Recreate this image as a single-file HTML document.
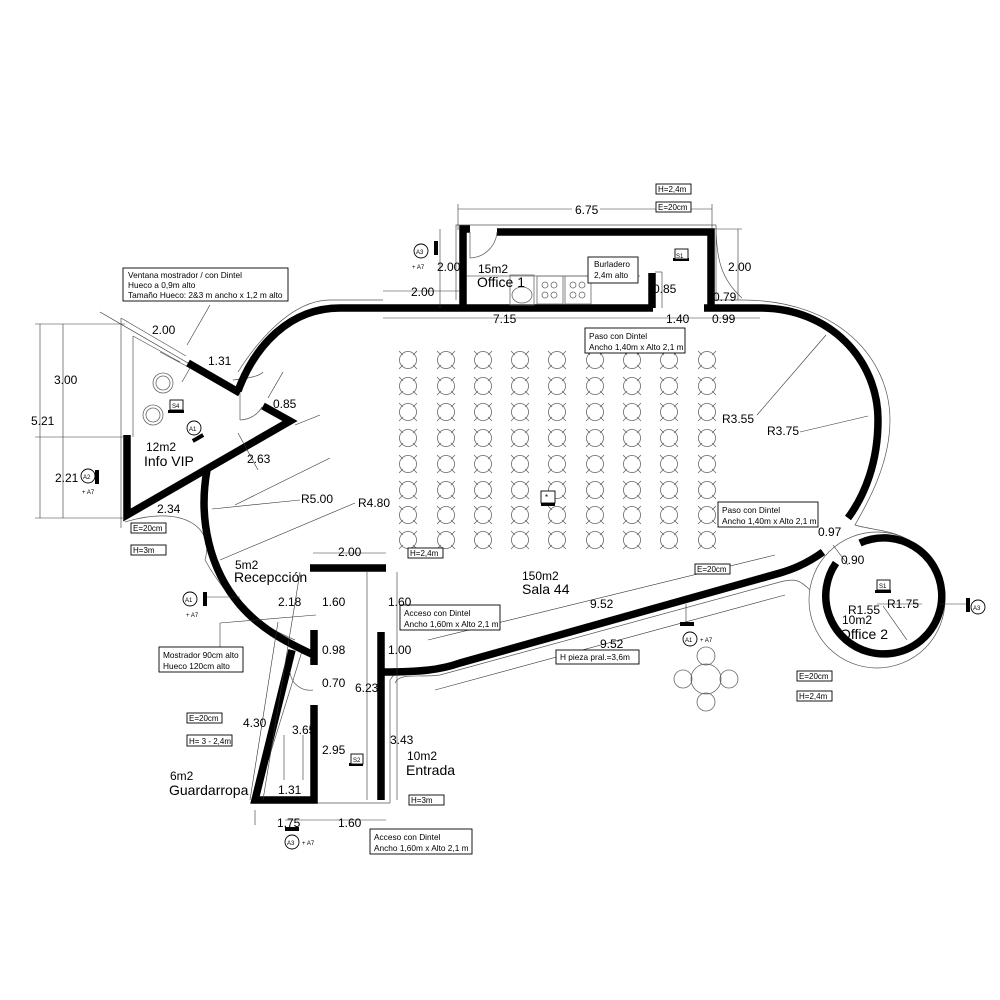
<!DOCTYPE html>
<html><head><meta charset="utf-8"><style>
html,body{margin:0;padding:0;background:#fff}
svg{display:block}
text{font-family:"Liberation Sans",sans-serif;fill:#000}
.s{font-size:8.3px}
.m{font-size:12px}
.l{font-size:14px}
.w{stroke:#000;stroke-width:7.5;fill:none;stroke-linecap:butt}
.t{stroke:#555;stroke-width:0.7;fill:none}
.d{stroke:#333;stroke-width:0.6;fill:none}
.b{fill:#fff;stroke:#000;stroke-width:0.9}
.c{stroke:#666;stroke-width:0.8;fill:none}
</style></head><body>
<svg width="1000" height="1000" viewBox="0 0 1000 1000" xmlns="http://www.w3.org/2000/svg">
<defs>
<g id="ch"><circle cx="0" cy="0" r="8.5" class="c"/><path d="M-9,-9 L-5,-5 M9,-9 L5,-5 M-9,9 L-5,5 M9,9 L5,5" class="c"/></g>
</defs>

<g>
<use href="#ch" x="408" y="360"/><use href="#ch" x="446" y="360"/><use href="#ch" x="483" y="360"/><use href="#ch" x="520" y="360"/><use href="#ch" x="557" y="360"/><use href="#ch" x="595" y="360"/><use href="#ch" x="632" y="360"/><use href="#ch" x="669" y="360"/><use href="#ch" x="707" y="360"/>
<use href="#ch" x="408" y="386"/><use href="#ch" x="446" y="386"/><use href="#ch" x="483" y="386"/><use href="#ch" x="520" y="386"/><use href="#ch" x="557" y="386"/><use href="#ch" x="595" y="386"/><use href="#ch" x="632" y="386"/><use href="#ch" x="669" y="386"/><use href="#ch" x="707" y="386"/>
<use href="#ch" x="408" y="412"/><use href="#ch" x="446" y="412"/><use href="#ch" x="483" y="412"/><use href="#ch" x="520" y="412"/><use href="#ch" x="557" y="412"/><use href="#ch" x="595" y="412"/><use href="#ch" x="632" y="412"/><use href="#ch" x="669" y="412"/><use href="#ch" x="707" y="412"/>
<use href="#ch" x="408" y="438"/><use href="#ch" x="446" y="438"/><use href="#ch" x="483" y="438"/><use href="#ch" x="520" y="438"/><use href="#ch" x="557" y="438"/><use href="#ch" x="595" y="438"/><use href="#ch" x="632" y="438"/><use href="#ch" x="669" y="438"/><use href="#ch" x="707" y="438"/>
<use href="#ch" x="408" y="464"/><use href="#ch" x="446" y="464"/><use href="#ch" x="483" y="464"/><use href="#ch" x="520" y="464"/><use href="#ch" x="557" y="464"/><use href="#ch" x="595" y="464"/><use href="#ch" x="632" y="464"/><use href="#ch" x="669" y="464"/><use href="#ch" x="707" y="464"/>
<use href="#ch" x="408" y="490"/><use href="#ch" x="446" y="490"/><use href="#ch" x="483" y="490"/><use href="#ch" x="520" y="490"/><use href="#ch" x="557" y="490"/><use href="#ch" x="595" y="490"/><use href="#ch" x="632" y="490"/><use href="#ch" x="669" y="490"/><use href="#ch" x="707" y="490"/>
<use href="#ch" x="408" y="515"/><use href="#ch" x="446" y="515"/><use href="#ch" x="483" y="515"/><use href="#ch" x="520" y="515"/><use href="#ch" x="557" y="515"/><use href="#ch" x="595" y="515"/><use href="#ch" x="632" y="515"/><use href="#ch" x="669" y="515"/><use href="#ch" x="707" y="515"/>
<use href="#ch" x="408" y="540"/><use href="#ch" x="446" y="540"/><use href="#ch" x="483" y="540"/><use href="#ch" x="520" y="540"/><use href="#ch" x="557" y="540"/><use href="#ch" x="595" y="540"/><use href="#ch" x="632" y="540"/><use href="#ch" x="669" y="540"/><use href="#ch" x="707" y="540"/>
</g>

<path class="t" d="M121,318 L121,528 M121,318 L186,356 M133,336 L133,437 M133,336 L180,362 M160,352 L190,368 M190,368 L182,382 M233,380 C250,378 260,376 263,372 M238,372 C255,345 290,300 330,300 L383,300"/>
<path class="t" d="M456,300 L456,225 L716,225 L716,300 L742,300 M716,225 C716,260 722,280 742,298"/>
<path class="t" d="M742,300 C840,300 890,360 890,420 C890,470 860,515 855,525 C870,530 900,530 915,545 M125,522 C180,505 215,525 205,560 C230,605 260,625 295,640"/>
<path class="t" d="M255,803 L303,648 M255,803 L390,803 M390,803 L390,680 C395,672 400,670 410,670 M395,683 C400,672 420,678 440,675 L780,582 C795,578 800,580 810,590"/>
<circle class="t" cx="877" cy="600" r="68"/>

<path class="w" d="M127,435 L127,515 L290,421 L263,406 M240,393 L188,363"/>
<path class="w" d="M238,391 C255,345 290,308 340,308 L653,308"/>
<path class="w" d="M463,308 L463,229 L470,229 M497,232 L711,232 L711,308 M652,273 L652,308"/>
<path class="w" d="M704,308 L760,308 C830,308 878,360 878,420 C878,462 865,495 848,518"/>
<path class="w" d="M823,552 C805,565 790,570 780,573 L460,663 C440,670 420,672 383,672"/>
<path class="w" d="M207,470 C198,520 210,570 240,605 C260,628 285,642 316,656"/>
<path class="w" d="M310,568 L386,568 M314,630 L314,665 M314,705 L314,800 L255,800 L292,650 M381,632 L381,800"/>
<path class="w" d="M836,563 A58,58 0 1 0 860,543"/>

<path class="c" d="M470,232 L470,258 A28,28 0 0 0 497,232"/>
<path class="c" d="M240,393 L240,420 M240,420 A26,26 0 0 0 262,407"/>
<path class="c" d="M290,672 A20,20 0 0 0 313,690"/>

<rect x="510" y="275" width="24" height="30" class="c"/><ellipse cx="522" cy="295" rx="10" ry="8" class="c"/>
<rect x="537" y="276" width="26" height="28" class="c"/><rect x="565" y="276" width="26" height="28" class="c"/>
<circle cx="545" cy="285" r="3" class="c"/><circle cx="554" cy="285" r="3" class="c"/><circle cx="545" cy="295" r="3" class="c"/><circle cx="554" cy="295" r="3" class="c"/>
<circle cx="573" cy="285" r="3" class="c"/><circle cx="582" cy="285" r="3" class="c"/><circle cx="573" cy="295" r="3" class="c"/><circle cx="582" cy="295" r="3" class="c"/>
<line x1="467" y1="276" x2="640" y2="276" class="c"/>

<circle cx="706" cy="679" r="15" class="c"/>
<circle cx="706" cy="656" r="9" class="c"/><circle cx="706" cy="702" r="9" class="c"/><circle cx="683" cy="679" r="9" class="c"/><circle cx="729" cy="679" r="9" class="c"/>
<circle cx="163" cy="383" r="7" class="c"/><circle cx="163" cy="383" r="10" class="c"/>
<circle cx="153" cy="415" r="7" class="c"/><circle cx="153" cy="415" r="10" class="c"/>

<g class="d">
<line x1="40" y1="324" x2="40" y2="518"/><line x1="63" y1="324" x2="63" y2="518"/>
<line x1="35" y1="324" x2="125" y2="324"/><line x1="35" y1="437" x2="125" y2="437"/><line x1="35" y1="518" x2="125" y2="518"/>
<line x1="458" y1="209" x2="572" y2="209"/><line x1="600" y1="209" x2="712" y2="209"/><line x1="458" y1="204" x2="458" y2="230"/><line x1="712" y1="204" x2="712" y2="230"/>
<line x1="383" y1="318" x2="760" y2="318"/><line x1="383" y1="291" x2="460" y2="291"/><line x1="440" y1="229" x2="440" y2="308"/>
<line x1="738" y1="229" x2="738" y2="300"/><line x1="715" y1="229" x2="742" y2="229"/>
<line x1="655" y1="272" x2="662" y2="272"/><line x1="662" y1="272" x2="662" y2="308"/>
<line x1="313" y1="553" x2="386" y2="553"/><line x1="397" y1="572" x2="397" y2="800"/><line x1="367" y1="572" x2="367" y2="800"/>
<line x1="285" y1="820" x2="386" y2="820"/><line x1="255" y1="810" x2="255" y2="825"/>
<line x1="300" y1="572" x2="263" y2="800"/><line x1="278" y1="622" x2="250" y2="800"/>
<line x1="428" y1="640" x2="775" y2="555"/><line x1="435" y1="690" x2="785" y2="595"/>
<line x1="268" y1="398" x2="283" y2="372"/><line x1="295" y1="425" x2="320" y2="415"/>
<line x1="100" y1="312" x2="188" y2="363"/><line x1="235" y1="505" x2="330" y2="458"/>
<line x1="212" y1="509" x2="300" y2="500"/><line x1="220" y1="560" x2="355" y2="503"/>
<line x1="757" y1="415" x2="826" y2="335"/><line x1="800" y1="432" x2="868" y2="416"/>
<line x1="883" y1="606" x2="907" y2="640"/><line x1="877" y1="604" x2="922" y2="604"/>
<line x1="833" y1="545" x2="848" y2="565"/>
<line x1="205" y1="597" x2="240" y2="597"/>
<line x1="238" y1="433" x2="258" y2="470"/>
<line x1="220" y1="623" x2="316" y2="615"/><line x1="220" y1="623" x2="220" y2="652"/>
<line x1="284" y1="735" x2="284" y2="780"/><line x1="303" y1="735" x2="303" y2="780"/>
<line x1="686" y1="604" x2="686" y2="625"/><line x1="940" y1="604" x2="967" y2="604"/>
<line x1="210" y1="305" x2="187" y2="345"/>
</g>

<g fill="#000">
<rect x="434" y="241" width="4" height="14"/><rect x="203" y="592" width="4" height="14"/>
<rect x="95" y="470" width="4" height="14"/><rect x="966" y="598" width="4" height="14"/>
<rect x="285" y="827" width="14" height="4"/><rect x="680" y="622" width="14" height="4"/>
<rect x="196" y="432" width="4" height="12" transform="rotate(60 198 438)"/>
<rect x="673" y="258" width="16" height="3"/><rect x="168" y="410" width="16" height="3"/>
<rect x="349" y="763" width="14" height="3"/><rect x="875" y="590" width="16" height="3"/><rect x="541" y="503" width="14" height="3"/>
</g>
<g class="b">
<rect x="675" y="249" width="13" height="10"/><rect x="170" y="400" width="13" height="10"/>
<rect x="351" y="754" width="12" height="10"/><rect x="877" y="580" width="13" height="10"/><rect x="541" y="491" width="14" height="12"/>
</g>
<text x="676" y="258" style="font-size:6px">S1</text><text x="172" y="408" style="font-size:6px">S4</text>
<text x="353" y="762" style="font-size:6px">S2</text><text x="879" y="588" style="font-size:6px">S1</text><text x="545" y="500" style="font-size:8px">*</text>

<g class="b">
<circle cx="421" cy="251" r="7"/><circle cx="88" cy="476" r="7"/><circle cx="190" cy="599" r="7"/>
<circle cx="978" cy="607" r="7"/><circle cx="690" cy="639" r="7"/><circle cx="292" cy="842" r="7"/><circle cx="194" cy="428" r="7"/>
</g>
<g style="font-size:6px">
<text x="416" y="254">A3</text><text x="83" y="479">A2</text><text x="185" y="602">A1</text>
<text x="973" y="610">A3</text><text x="685" y="642">A1</text><text x="287" y="845">A3</text><text x="189" y="431">A1</text>
<text x="412" y="269">+ A7</text><text x="82" y="494">+ A7</text><text x="186" y="617">+ A7</text>
<text x="700" y="642">+ A7</text><text x="302" y="845">+ A7</text>
</g>

<rect x="123" y="268" width="165" height="33" class="b"/>
<text x="128" y="278" class="s">Ventana mostrador / con Dintel</text>
<text x="128" y="288" class="s">Hueco a 0,9m alto</text>
<text x="128" y="298" class="s">Tamaño Hueco: 2&amp;3 m ancho x 1,2 m alto</text>
<rect x="588" y="257" width="50" height="26" class="b"/>
<text x="594" y="267" class="s">Burladero</text><text x="594" y="278" class="s">2,4m alto</text>
<rect x="585" y="328" width="100" height="25" class="b"/>
<text x="589" y="339" class="s">Paso con Dintel</text><text x="589" y="350" class="s">Ancho 1,40m x Alto 2,1 m</text>
<rect x="718" y="502" width="100" height="25" class="b"/>
<text x="722" y="513" class="s">Paso con Dintel</text><text x="722" y="524" class="s">Ancho 1,40m x Alto 2,1 m</text>
<rect x="400" y="605" width="100" height="25" class="b"/>
<text x="404" y="616" class="s">Acceso con Dintel</text><text x="404" y="627" class="s">Ancho 1,60m x Alto 2,1 m</text>
<rect x="370" y="829" width="102" height="25" class="b"/>
<text x="374" y="840" class="s">Acceso con Dintel</text><text x="374" y="851" class="s">Ancho 1,60m x Alto 2,1 m</text>
<rect x="159" y="647" width="84" height="25" class="b"/>
<text x="163" y="658" class="s">Mostrador 90cm alto</text><text x="163" y="669" class="s">Hueco 120cm alto</text>
<rect x="556" y="650" width="83" height="14" class="b"/><text x="560" y="660" class="s">H pieza pral.=3,6m</text>
<rect x="656" y="184" width="35" height="10" class="b"/><text x="658" y="192" style="font-size:8px">H=2,4m</text>
<rect x="656" y="202" width="35" height="10" class="b"/><text x="658" y="210" style="font-size:8px">E=20cm</text>
<rect x="131" y="523" width="35" height="10" class="b"/><text x="133" y="531" style="font-size:8px">E=20cm</text>
<rect x="131" y="545" width="35" height="10" class="b"/><text x="133" y="553" style="font-size:8px">H=3m</text>
<rect x="408" y="548" width="35" height="10" class="b"/><text x="410" y="556" style="font-size:8px">H=2,4m</text>
<rect x="695" y="564" width="35" height="10" class="b"/><text x="697" y="572" style="font-size:8px">E=20cm</text>
<rect x="797" y="671" width="35" height="10" class="b"/><text x="799" y="679" style="font-size:8px">E=20cm</text>
<rect x="797" y="691" width="35" height="10" class="b"/><text x="799" y="699" style="font-size:8px">H=2,4m</text>
<rect x="187" y="713" width="35" height="10" class="b"/><text x="189" y="721" style="font-size:8px">E=20cm</text>
<rect x="187" y="735" width="45" height="11" class="b"/><text x="189" y="744" style="font-size:8px">H= 3 - 2,4m</text>
<rect x="409" y="795" width="35" height="10" class="b"/><text x="411" y="803" style="font-size:8px">H=3m</text>

<g class="m">
<text x="575" y="214">6.75</text>
<text x="437" y="271">2.00</text><text x="411" y="296">2.00</text><text x="728" y="271">2.00</text>
<text x="653" y="293">0.85</text><text x="713" y="301">0.79</text><text x="493" y="323">7.15</text>
<text x="666" y="323">1.40</text><text x="712" y="323">0.99</text>
<text x="152" y="334">2.00</text><text x="208" y="365">1.31</text><text x="273" y="408">0.85</text>
<text x="247" y="463">2.63</text><text x="157" y="513">2.34</text>
<text x="54" y="384">3.00</text><text x="31" y="425">5.21</text><text x="55" y="482">2.21</text>
<text x="301" y="503">R5.00</text><text x="358" y="507">R4.80</text>
<text x="722" y="423">R3.55</text><text x="767" y="435">R3.75</text>
<text x="818" y="536">0.97</text><text x="841" y="564">0.90</text>
<text x="887" y="608">R1.75</text><text x="848" y="614">R1.55</text>
<text x="338" y="556">2.00</text><text x="278" y="606">2.18</text><text x="322" y="606">1.60</text><text x="388" y="606">1.60</text>
<text x="322" y="654">0.98</text><text x="388" y="654">1.00</text><text x="322" y="687">0.70</text><text x="355" y="692">6.23</text>
<text x="243" y="727">4.30</text><text x="292" y="734">3.65</text><text x="322" y="754">2.95</text><text x="390" y="744">3.43</text>
<text x="278" y="794">1.31</text><text x="277" y="827">1.75</text><text x="338" y="827">1.60</text>
<text x="590" y="608">9.52</text><text x="600" y="648">9.52</text>
</g>
<text x="478" y="273" class="m">15m2</text><text x="477" y="287" class="l">Office 1</text>
<text x="146" y="451" class="m">12m2</text><text x="144" y="466" class="l">Info VIP</text>
<text x="235" y="569" class="m">5m2</text><text x="234" y="582" class="l">Recepcción</text>
<text x="522" y="580" class="m">150m2</text><text x="522" y="594" class="l">Sala 44</text>
<text x="842" y="624" class="m">10m2</text><text x="840" y="639" class="l">Office 2</text>
<text x="407" y="760" class="m">10m2</text><text x="406" y="775" class="l">Entrada</text>
<text x="170" y="780" class="m">6m2</text><text x="169" y="795" class="l">Guardarropa</text>
</svg>
</body></html>
